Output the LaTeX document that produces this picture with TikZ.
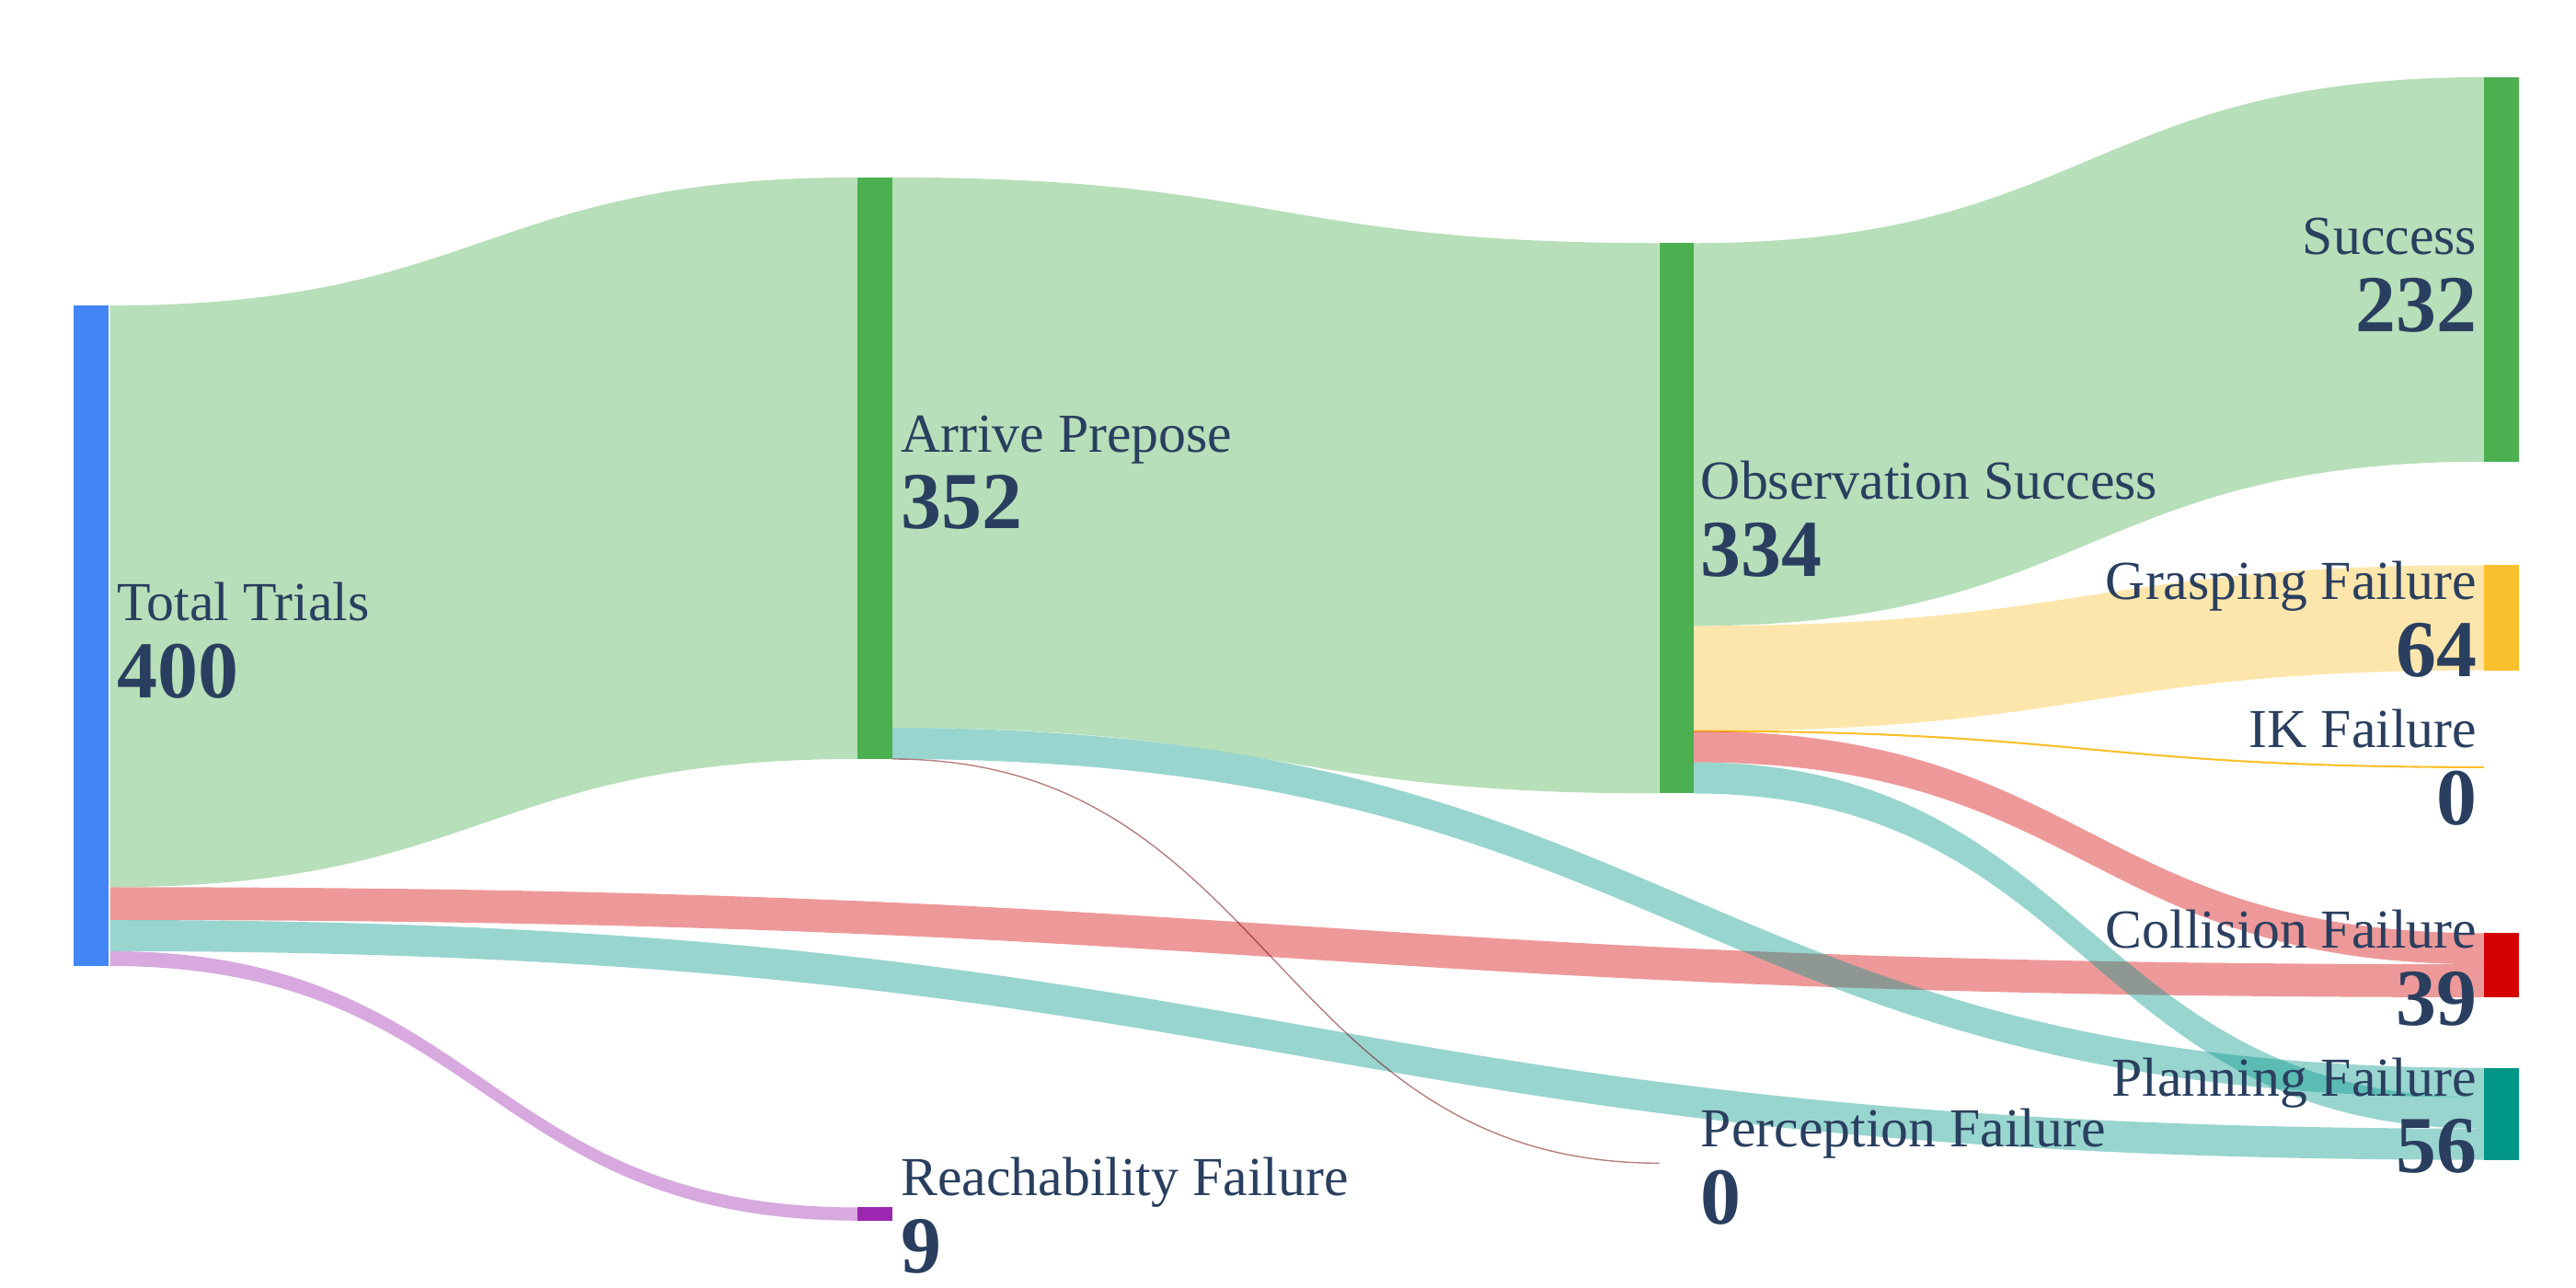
\documentclass[tikz,border=0pt]{standalone}
\usepackage{fontspec}
\setmainfont{Liberation Serif}
\usetikzlibrary{positioning}
\definecolor{cblue}{HTML}{4285F4}
\definecolor{cgreen}{HTML}{4CAF50}
\definecolor{cpurple}{HTML}{9C27B0}
\definecolor{cyellow}{HTML}{FBC02D}
\definecolor{cred}{HTML}{D50000}
\definecolor{cteal}{HTML}{009688}
\definecolor{ctext}{HTML}{2A3F5F}
\tikzset{
  lbl/.style={text=ctext, font=\fontsize{17}{17}\selectfont, inner sep=0pt},
  num/.style={text=ctext, font=\fontsize{25}{25}\selectfont\bfseries, inner sep=0pt},
  link/.style={fill=#1, fill opacity=0.4, draw=none}
}
% flow: colour, x0, x1, source top, source bottom, target top, target bottom
\newcommand\flow[7]{%
  \pgfmathsetmacro\xm{(#2+#3)/2}
  \path[link=#1] (#2,#4) .. controls (\xm,#4) and (\xm,#6) .. (#3,#6)
    -- (#3,#7) .. controls (\xm,#7) and (\xm,#5) .. (#2,#5) -- cycle;}
\newcommand\nbar[4]{\fill[#1] (#2,#3) rectangle (#2+21,#4);}
\begin{document}
\begin{tikzpicture}[x=0.017857cm, y=-0.017857cm]
  \useasboundingbox (0,0) rectangle (1568,784);
  % links
  \flow{cgreen}{67}{522}{186}{540}{108}{462}
  \flow{cred}{67}{1512}{540}{560}{587}{607}
  \flow{cteal}{67}{1512}{560}{579}{687}{706}
  \flow{cpurple}{67}{522}{579}{588}{735}{743}
  \flow{cgreen}{543}{1010}{108}{443}{148}{483}
  \flow{cteal}{543}{1512}{443}{462}{650}{668}
  \draw[cred!50!black, opacity=0.5, line width=0.4pt] (543,462) .. controls (776,462) and (776,708) .. (1010,708);
  \flow{cgreen}{1031}{1512}{148}{381}{47}{281}
  \flow{cyellow}{1031}{1512}{381}{445}{344}{408}
  \draw[cyellow, line width=0.6pt] (1031,445) .. controls (1271,445) and (1271,467) .. (1512,467);
  \flow{cred}{1031}{1512}{445}{464}{568}{587}
  \flow{cteal}{1031}{1512}{464}{483}{668}{687}
  % bars
  \nbar{cblue}{45}{186}{588}
  \nbar{cgreen}{522}{108}{462}
  \nbar{cpurple}{522}{735}{743}
  \nbar{cgreen}{1010}{148}{483}
  \nbar{cgreen}{1512}{47}{281}
  \nbar{cyellow}{1512}{344}{408}
  \nbar{cred}{1512}{568}{607}
  \nbar{cteal}{1512}{650}{706}
  % labels
  \node[lbl, anchor=base west] (total) at (71,378) {Total Trials};
  \node[num, anchor=base west] (totaln) at (71,425) {400};
  \node[lbl, anchor=base west] (arrive) at (548,275) {Arrive Prepose};
  \node[num, anchor=base west] (arriven) at (548,322) {352};
  \node[lbl, anchor=base west] (reach) at (548,728) {Reachability Failure};
  \node[num, anchor=base west] (reachn) at (548,775) {9};
  \node[lbl, anchor=base west] (obs) at (1035,304) {Observation Success};
  \node[num, anchor=base west] (obsn) at (1035,351) {334};
  \node[lbl, anchor=base west] (perc) at (1035,698) {Perception Failure};
  \node[num, anchor=base west] (percn) at (1035,745) {0};
  \node[lbl, anchor=base east] (succ) at (1508,155) {Success};
  \node[num, anchor=base east] (succn) at (1508,202) {232};
  \node[lbl, anchor=base east] (grasp) at (1508,365) {Grasping Failure};
  \node[num, anchor=base east] (graspn) at (1508,412) {64};
  \node[lbl, anchor=base east] (ik) at (1508,455) {IK Failure};
  \node[num, anchor=base east] (ikn) at (1508,502) {0};
  \node[lbl, anchor=base east] (coll) at (1508,577) {Collision Failure};
  \node[num, anchor=base east] (colln) at (1508,624) {39};
  \node[lbl, anchor=base east] (plan) at (1508,667) {Planning Failure};
  \node[num, anchor=base east] (plann) at (1508,714) {56};
\end{tikzpicture}
\end{document}
